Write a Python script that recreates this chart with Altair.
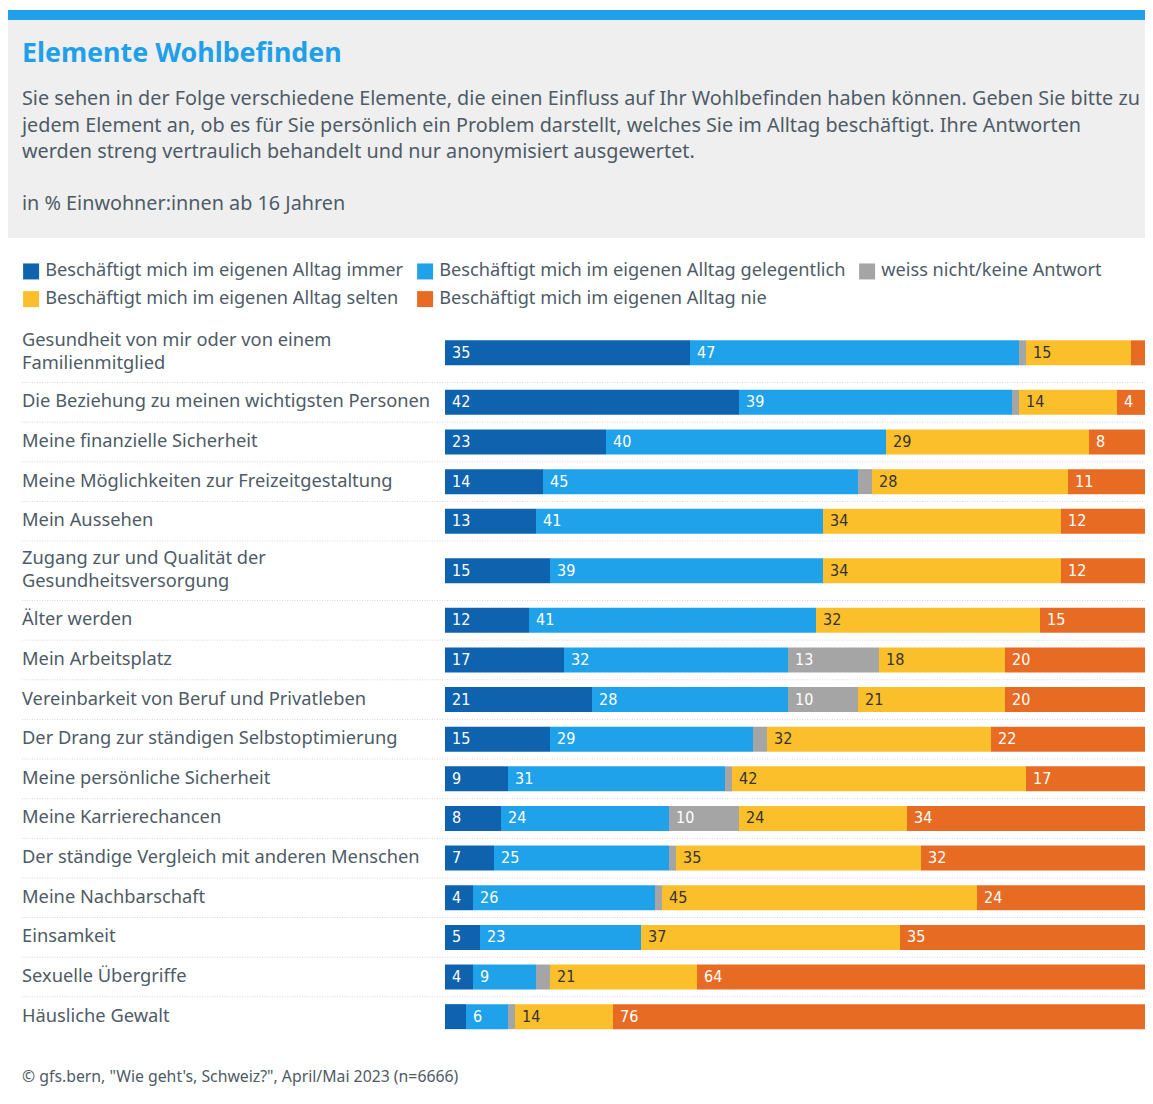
import altair as alt
import pandas as pd

categories = [
    "Gesundheit von mir oder von einem\nFamilienmitglied",
    "Die Beziehung zu meinen wichtigsten Personen",
    "Meine finanzielle Sicherheit",
    "Meine Möglichkeiten zur Freizeitgestaltung",
    "Mein Aussehen",
    "Zugang zur und Qualität der\nGesundheitsversorgung",
    "Älter werden",
    "Mein Arbeitsplatz",
    "Vereinbarkeit von Beruf und Privatleben",
    "Der Drang zur ständigen Selbstoptimierung",
    "Meine persönliche Sicherheit",
    "Meine Karrierechancen",
    "Der ständige Vergleich mit anderen Menschen",
    "Meine Nachbarschaft",
    "Einsamkeit",
    "Sexuelle Übergriffe",
    "Häusliche Gewalt",
]
series_names = [
    "Beschäftigt mich im eigenen Alltag immer",
    "Beschäftigt mich im eigenen Alltag gelegentlich",
    "weiss nicht/keine Antwort",
    "Beschäftigt mich im eigenen Alltag selten",
    "Beschäftigt mich im eigenen Alltag nie",
]
immer = [35, 42, 23, 14, 13, 15, 12, 17, 21, 15, 9, 8, 7, 4, 5, 4, 3]
gelegentlich = [47, 39, 40, 45, 41, 39, 41, 32, 28, 29, 31, 24, 25, 26, 23, 9, 6]
weiss_nicht = [1, 1, 0, 2, 0, 0, 0, 13, 10, 2, 1, 10, 1, 1, 0, 2, 1]
selten = [15, 14, 29, 28, 34, 34, 32, 18, 21, 32, 42, 24, 35, 45, 37, 21, 14]
nie = [2, 4, 8, 11, 12, 12, 15, 20, 20, 22, 17, 34, 32, 24, 35, 64, 76]
colors = ["#0f62ae", "#20a2ea", "#a5a5a5", "#fbbf2b", "#e86b24"]

title_text = "Elemente Wohlbefinden"
subtitle_text = (
    "Sie sehen in der Folge verschiedene Elemente, die einen Einfluss auf Ihr Wohlbefinden haben können. Geben Sie bitte zu\n"
    "jedem Element an, ob es für Sie persönlich ein Problem darstellt, welches Sie im Alltag beschäftigt. Ihre Antworten\n"
    "werden streng vertraulich behandelt und nur anonymisiert ausgewertet."
)
unit_text = "in % Einwohner:innen ab 16 Jahren"
source_text = '© gfs.bern, "Wie geht\'s, Schweiz?", April/Mai 2023 (n=6666)'

FONT = "Noto Sans"
NUMFONT = "'DejaVu Sans Condensed', Roboto, sans-serif"
TEXTCOL = "#4e5b66"
W, H = 1137, 1082
TOP = 313
PX_PER_LINE = 20
LABEL_LH = 23

# layout of the rows (row height depends on number of label lines)
series = [immer, gelegentlich, weiss_nicht, selten, nie]
rows, segs, seps = [], [], []
y = TOP
for i, cat in enumerate(categories):
    nlines = cat.count("\n") + 1
    h = PX_PER_LINE * (nlines + 1)
    yc = y + h / 2
    rows.append({"label": cat, "ylab": yc - (nlines - 1) * LABEL_LH / 2})
    start = 0
    for s, name in enumerate(series_names):
        v = series[s][i]
        segs.append({"label": cat, "serie": name, "value": v, "start": start,
                     "end": start + v, "yc": yc,
                     "txt": str(v) if v >= 4 else "",
                     "dark": name == series_names[3]})
        start += v
    y += h
    if i < len(categories) - 1:
        seps.append({"ys": y})

rows_df = pd.DataFrame(rows)
segs_df = pd.DataFrame(segs)
seps_df = pd.DataFrame(seps)

yscale = alt.Scale(domain=[0, H], range=[0, H])
xscale = alt.Scale(domain=[0, 100], range=[437, 1137])

one = pd.DataFrame({"t": [0]})

header_bg = alt.Chart(one).mark_rect(color="#efefef").encode(
    x=alt.value(0), x2=alt.value(W), y=alt.value(12), y2=alt.value(230))
header_bar = alt.Chart(one).mark_rect(color="#1fa0e8").encode(
    x=alt.value(0), x2=alt.value(W), y=alt.value(2), y2=alt.value(12))
title = alt.Chart(pd.DataFrame({"t": [title_text]})).mark_text(
    font=FONT, fontSize=26.8, fontWeight="bold", color="#1fa0e8",
    align="left", baseline="middle").encode(
    x=alt.value(14), y=alt.value(46), text="t:N")
subtitle = alt.Chart(pd.DataFrame({"t": [subtitle_text]})).mark_text(
    font=FONT, fontSize=19.8, color=TEXTCOL, align="left", baseline="middle",
    lineBreak="\n", lineHeight=26.5).encode(
    x=alt.value(14), y=alt.value(91), text="t:N")
unit = alt.Chart(pd.DataFrame({"t": [unit_text]})).mark_text(
    font=FONT, fontSize=19.8, color=TEXTCOL, align="left", baseline="middle").encode(
    x=alt.value(14), y=alt.value(196), text="t:N")
source = alt.Chart(pd.DataFrame({"t": [source_text]})).mark_text(
    font=FONT, fontSize=15.8, color=TEXTCOL, align="left", baseline="middle").encode(
    x=alt.value(14), y=alt.value(1069), text="t:N")

separators = alt.Chart(seps_df).mark_rule(
    color="#d6d6d6", strokeDash=[1, 1.5], strokeWidth=1).encode(
    x=alt.value(14), x2=alt.value(W),
    y=alt.Y("ys:Q", scale=yscale, axis=None))

row_labels = alt.Chart(rows_df).mark_text(
    font=FONT, fontSize=18.3, color=TEXTCOL, align="left", baseline="middle",
    lineBreak="\n", lineHeight=LABEL_LH).encode(
    x=alt.value(14), y=alt.Y("ylab:Q", scale=yscale, axis=None), text="label:N")

bars = alt.Chart(segs_df).mark_bar(size=25, orient="horizontal").encode(
    x=alt.X("start:Q", scale=xscale, axis=None),
    x2="end:Q",
    y=alt.Y("yc:Q", scale=yscale, axis=None),
    color=alt.Color("serie:N", scale=alt.Scale(domain=series_names, range=colors),
                    legend=alt.Legend(
                        title=None, orient="none", legendX=14, legendY=254,
                        direction="horizontal", columns=3, symbolType="square",
                        symbolSize=256, symbolStrokeWidth=0, symbolOffset=0,
                        labelFont=FONT, labelFontSize=18.2, labelColor=TEXTCOL,
                        labelOffset=5, columnPadding=12, rowPadding=9,
                        labelLimit=600)),
    order=alt.Order("start:Q"),
)

value_labels = alt.Chart(segs_df).mark_text(
    font=NUMFONT, fontSize=16, align="left", baseline="middle", dx=7).encode(
    x=alt.X("start:Q", scale=xscale, axis=None),
    y=alt.Y("yc:Q", scale=yscale, axis=None),
    text="txt:N",
    color=alt.condition("datum.dark", alt.value("#333333"), alt.value("#ffffff")),
)

chart = alt.layer(
    header_bg, header_bar, title, subtitle, unit, separators, row_labels, bars,
    value_labels, source
).properties(
    width=W, height=H, padding=0, autosize=alt.AutoSizeParams(type="none"),
    background="white"
).configure_view(stroke=None)

chart.save("out.html", embed_options={"renderer": "svg", "actions": False})
